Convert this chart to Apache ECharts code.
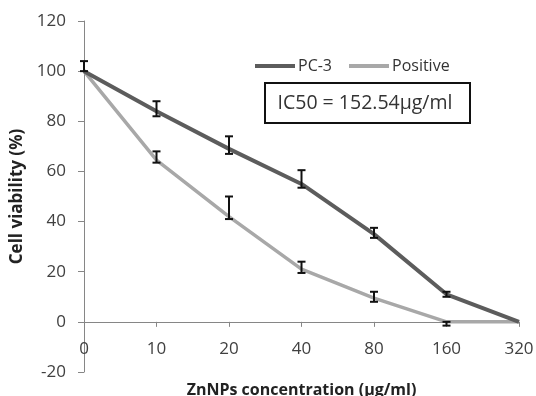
<!DOCTYPE html>
<html>
<head>
<meta charset="utf-8">
<script src="https://cdn.jsdelivr.net/npm/echarts@6/dist/echarts.min.js"></script>
<style>html,body{margin:0;padding:0;background:#fff;}#c{width:536px;height:396px;}</style>
</head>
<body>
<div id="c"></div>
<script>
var categories = ['0', '10', '20', '40', '80', '160', '320'];
var pc3 = [100, 84, 69, 55, 35, 11, 0];
var pc3Low = [100, 82, 67, 53.5, 33.5, 10, 0];
var pc3High = [104, 88, 74, 60.5, 37.5, 12, 0];
var positive = [100, 64.5, 42, 21, 9.5, 0, 0];
var posLow = [100, 63.5, 41, 19.5, 8, -1.5, 0];
var posHigh = [100, 68, 50, 24, 12, 0, 0];
var yTicks = {min: -20, max: 120, interval: 20};
var annotation = 'IC50 = 152.54\u00b5g/ml';

var FONT = 'Open Sans';

function errSeries(name, low, high) {
  var data = low.map(function (l, i) { return [i, l, high[i]]; });
  return {
    type: 'custom',
    name: name,
    z: 5,
    silent: true,
    data: data,
    encode: {x: 0, y: [1, 2]},
    renderItem: function (params, api) {
      var i = api.value(0);
      var lo = api.coord([i, api.value(1)]);
      var hi = api.coord([i, api.value(2)]);
      if (Math.abs(lo[1] - hi[1]) < 0.5) return null;
      var hw = 4;
      var st = {stroke: '#111', lineWidth: 2};
      return {
        type: 'group',
        children: [
          {type: 'line', shape: {x1: lo[0], y1: lo[1], x2: hi[0], y2: hi[1]}, style: st},
          {type: 'line', shape: {x1: lo[0] - hw, y1: lo[1], x2: lo[0] + hw, y2: lo[1]}, style: st},
          {type: 'line', shape: {x1: hi[0] - hw, y1: hi[1], x2: hi[0] + hw, y2: hi[1]}, style: st}
        ]
      };
    }
  };
}

var chart = echarts.init(document.getElementById('c'), null, {renderer: 'canvas'});
chart.setOption({
  animation: false,
  backgroundColor: '#fff',
  textStyle: {fontFamily: FONT},
  grid: {left: 84, right: 17, top: 21, bottom: 24, containLabel: false, outerBoundsMode: 'none'},
  legend: {
    left: 255, top: 58, padding: 0,
    itemWidth: 40, itemHeight: 14, itemGap: 17,
    textStyle: {fontFamily: FONT, fontSize: 16, color: '#333', padding: [0, 0, 0, -2]},
    data: [{name: 'PC-3', icon: 'path://M0,0 L40,0 L40,4 L0,4 Z'}, {name: 'Positive', icon: 'path://M0,0 L40,0 L40,4 L0,4 Z'}]
  },
  xAxis: {
    type: 'category',
    data: categories,
    boundaryGap: false,
    axisLine: {onZero: true, lineStyle: {color: '#868686', width: 1}},
    axisTick: {show: true, alignWithLabel: true, length: 5, lineStyle: {color: '#868686'}},
    axisLabel: {fontFamily: FONT, fontSize: 17, color: '#404040', margin: -31},
    name: 'ZnNPs concentration (\u00b5g/ml)',
    nameLocation: 'middle',
    nameGap: 10,
    nameTextStyle: {fontFamily: FONT, fontSize: 16, fontWeight: 'bold', color: '#222'}
  },
  yAxis: {
    type: 'value',
    min: yTicks.min, max: yTicks.max, interval: yTicks.interval,
    axisLine: {show: true, lineStyle: {color: '#868686', width: 1}},
    axisTick: {show: true, length: 6, lineStyle: {color: '#868686'}},
    splitLine: {show: false},
    axisLabel: {fontFamily: FONT, fontSize: 17, color: '#404040', margin: 18},
    name: 'Cell viability (%)',
    nameLocation: 'middle',
    nameGap: 57,
    nameRotate: 90,
    nameTextStyle: {fontFamily: FONT, fontSize: 17, fontWeight: 'bold', color: '#222'}
  },
  graphic: [
    {
      type: 'group', left: 264, top: 82,
      children: [
        {type: 'rect', shape: {x: 0, y: 0, width: 205, height: 40}, style: {fill: '#fff', stroke: '#111', lineWidth: 2}},
        {type: 'text', x: 100, y: 20.5, style: {text: annotation, fontFamily: FONT, fontSize: 19.5, fill: '#333', align: 'center', verticalAlign: 'middle'}}
      ]
    }
  ],
  series: [
    {name: 'PC-3', type: 'line', data: pc3, symbol: 'none', z: 3,
     lineStyle: {color: '#5c5c5c', width: 4}, itemStyle: {color: '#5c5c5c'}},
    {name: 'Positive', type: 'line', data: positive, symbol: 'none', z: 2,
     lineStyle: {color: '#a8a8a8', width: 3.5}, itemStyle: {color: '#a8a8a8'}},
    errSeries('pcErr', pc3Low, pc3High),
    errSeries('posErr', posLow, posHigh)
  ]
});
</script>
</body>
</html>
